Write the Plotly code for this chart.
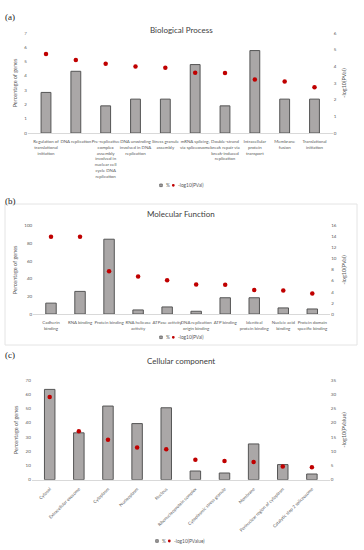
import plotly.graph_objects as go

# ---------------- data ----------------
bp_cats = ["Regulation of<br>translational<br>initiation", "DNA replication",
           "Pre-replicative<br>complex<br>assembly<br>involved in<br>nuclear cell<br>cycle DNA<br>replication",
           "DNA unwinding<br>involved in DNA<br>replication", "Stress granule<br>assembly",
           "mRNA splicing,<br>via spliceosome",
           "Double-strand<br>break repair via<br>break-induced<br>replication",
           "Intracellular<br>protein<br>transport", "Membrane<br>fusion", "Translational<br>initiation"]
bp_pct = [2.84, 4.32, 1.90, 2.37, 2.37, 4.79, 1.90, 5.77, 2.37, 2.37]
bp_logp = [4.74, 4.38, 4.16, 3.99, 3.92, 3.61, 3.60, 3.21, 3.09, 2.75]

mf_cats = ["Cadherin<br>binding", "RNA binding", "Protein binding", "RNA helicase<br>activity",
           "ATPase activity", "DNA replication<br>origin binding", "ATP binding",
           "Identical<br>protein binding", "Nucleic acid<br>binding", "Protein domain<br>specific binding"]
mf_pct = [12.3, 25.6, 84.7, 4.6, 8.0, 3.1, 18.4, 18.4, 6.9, 5.7]
mf_logp = [14.0, 14.0, 7.76, 6.8, 6.1, 5.33, 5.3, 4.36, 4.24, 3.7]

cc_cats = ["Cytosol", "Extracellular exosome", "Cytoplasm", "Nucleoplasm", "Nucleus",
           "Ribonucleoprotein complex", "Cytoplasmic stress granule", "Membrane",
           "Perinuclear region of cytoplasm", "Catalytic step 2 spliceosome"]
cc_pct = [63.4, 32.9, 51.7, 39.4, 50.5, 6.1, 4.7, 25.1, 10.6, 4.0]
cc_logp = [29.0, 17.0, 14.0, 11.3, 10.7, 7.0, 6.6, 6.2, 4.6, 4.4]

W, H = 364, 550
FONT = "Lato"
BAR_FILL = "#aaa7a7"
BAR_LINE = "#555555"
DOT = "#c00000"
TXT = "#595959"

def py(y):
    return 1 - y / H

def px(x):
    return x / W

fig = go.Figure()

panels = [
    dict(cats=bp_cats, pct=bp_pct, logp=bp_logp, x="x", yl="y", yr="y2",
         xdom=[px(27.75), px(332.75)], ydom=[py(133), py(33)], lrange=[0, 7], rrange=[0, 6],
         ldtick=1, rdtick=1, rtitle="-log10(PVal)", lname="-log10(PVal)", width=0.33,
         leg=(161, 185.3), angle=0),
    dict(cats=mf_cats, pct=mf_pct, logp=mf_logp, x="x2", yl="y3", yr="y4",
         xdom=[px(33.15), px(330.15)], ydom=[py(314), py(225.7)], lrange=[0, 100], rrange=[0, 16],
         ldtick=20, rdtick=2, rtitle="-log10(PVal)", lname="-log10(PVal)", width=0.36,
         leg=(161, 337.3), angle=0),
    dict(cats=cc_cats, pct=cc_pct, logp=cc_logp, x="x3", yl="y5", yr="y6",
         xdom=[px(31.8), px(329.8)], ydom=[py(479.7), py(380)], lrange=[0, 70], rrange=[0, 35],
         ldtick=10, rdtick=5, rtitle="-log10(PValue)", lname="-log10(PValue)", width=0.36,
         leg=(157, 541), angle=-45),
]

layout = dict(width=W, height=H, autosize=False, margin=dict(l=0, r=0, t=0, b=0),
              paper_bgcolor="white", plot_bgcolor="white", showlegend=False,
              font=dict(family=FONT, color=TXT, size=5))

annotations = []
shapes = [
    dict(type="rect", xref="paper", yref="paper", x0=px(5), x1=px(357), y0=py(345), y1=py(204),
         line=dict(color="#e4e4e4", width=1)),
]

for i, p in enumerate(panels):
    fig.add_trace(go.Bar(x=p["cats"], y=p["pct"], name="%", xaxis=p["x"], yaxis=p["yl"],
                         width=p["width"],
                         marker=dict(color=BAR_FILL, line=dict(color=BAR_LINE, width=1))))
    fig.add_trace(go.Scatter(x=p["cats"], y=p["logp"], name=p["lname"], mode="markers",
                             xaxis=p["x"], yaxis=p["yr"],
                             marker=dict(color=DOT, size=4.5)))
    xk = "xaxis" if p["x"] == "x" else "xaxis" + p["x"][1:]
    ylk = "yaxis" if p["yl"] == "y" else "yaxis" + p["yl"][1:]
    yrk = "yaxis" + p["yr"][1:]
    layout[xk] = dict(domain=p["xdom"], anchor=p["yl"], showline=True, linecolor="#d9d9d9",
                      linewidth=1, ticks="outside", ticklen=4, tickcolor="rgba(0,0,0,0)",
                      showgrid=False, tickangle=p["angle"],
                      tickfont=dict(size=4.4, family=FONT, color=TXT), automargin=False)
    layout[ylk] = dict(domain=p["ydom"], anchor=p["x"], range=p["lrange"], dtick=p["ldtick"],
                       showgrid=False, showline=False, zeroline=False, ticks="",
                       tickfont=dict(size=4.5, family=FONT, color=TXT),
                       title=dict(text="Percentage of genes", font=dict(size=5.5, family=FONT, color=TXT),
                                  standoff=6), automargin=False)
    layout[yrk] = dict(overlaying=p["yl"], side="right", anchor=p["x"], range=p["rrange"],
                       dtick=p["rdtick"], showgrid=False, showline=False, zeroline=False, ticks="",
                       tickfont=dict(size=4.5, family=FONT, color=TXT),
                       title=dict(text=p["rtitle"], font=dict(size=5.5, family=FONT, color=TXT),
                                  standoff=6), automargin=False)
    # manual legend
    lx, ly = p["leg"]
    shapes.append(dict(type="rect", xref="paper", yref="paper", x0=px(lx - 1.3), x1=px(lx + 1.3),
                       y0=py(ly + 1.3), y1=py(ly - 1.3), fillcolor=BAR_FILL,
                       line=dict(color=BAR_LINE, width=0.7)))
    annotations.append(dict(text="%", x=px(lx + 2.5), y=py(ly), xref="paper", yref="paper",
                            xanchor="left", yanchor="middle", showarrow=False,
                            font=dict(size=4.8, family=FONT, color=TXT)))
    dx = lx + 12.3
    shapes.append(dict(type="circle", xref="paper", yref="paper", x0=px(dx - 1.4), x1=px(dx + 1.4),
                       y0=py(ly + 1.4), y1=py(ly - 1.4), fillcolor=DOT, line=dict(width=0)))
    annotations.append(dict(text=p["lname"], x=px(dx + 2.4), y=py(ly), xref="paper", yref="paper",
                            xanchor="left", yanchor="middle", showarrow=False,
                            font=dict(size=4.8, family=FONT, color=TXT)))

annotations += [
    dict(text="Biological Process", x=px(181), y=py(23), xref="paper", yref="paper",
         showarrow=False, font=dict(size=8, family=FONT, color="#404040")),
    dict(text="Molecular Function", x=px(181), y=py(214), xref="paper", yref="paper",
         showarrow=False, font=dict(size=8, family=FONT, color="#404040")),
    dict(text="Cellular component", x=px(181), y=py(368), xref="paper", yref="paper",
         showarrow=False, font=dict(size=8, family=FONT, color="#404040")),
    dict(text="(a)", x=px(3), y=py(10), xref="paper", yref="paper", xanchor="left",
         showarrow=False, font=dict(size=9, family="Liberation Serif", color="#222")),
    dict(text="(b)", x=px(3), y=py(201), xref="paper", yref="paper", xanchor="left",
         showarrow=False, font=dict(size=9, family="Liberation Serif", color="#222")),
    dict(text="(c)", x=px(3), y=py(355), xref="paper", yref="paper", xanchor="left",
         showarrow=False, font=dict(size=9, family="Liberation Serif", color="#222")),
]
layout["annotations"] = annotations
layout["shapes"] = shapes

fig.update_layout(**layout)
fig.write_html("out.html", config={"displayModeBar": False},
               post_script="document.body.style.margin='0';document.body.style.overflow='hidden';")
